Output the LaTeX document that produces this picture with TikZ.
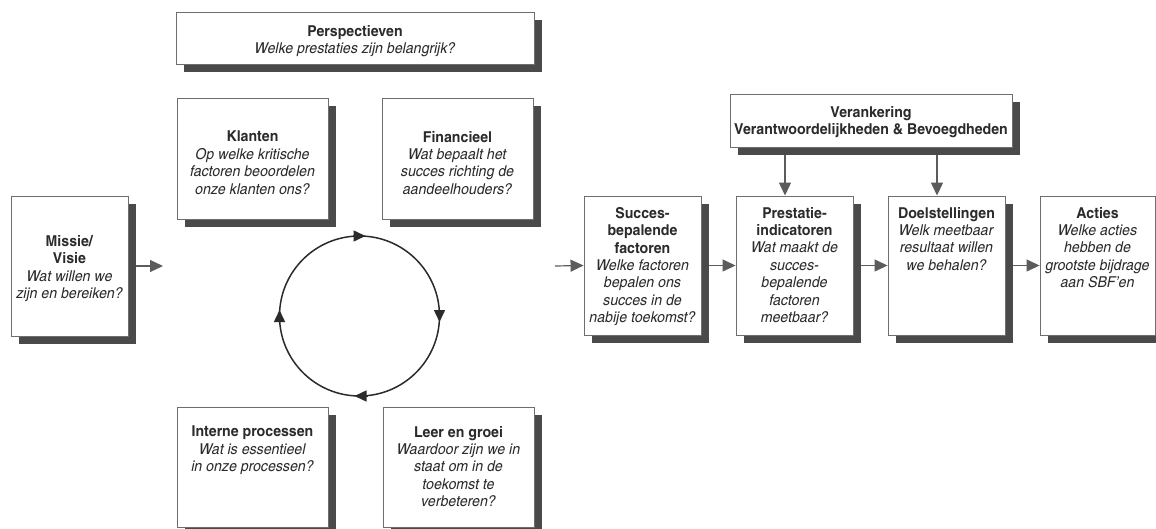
\documentclass[tikz,border=0pt]{standalone}
\usepackage{fontspec}
\setmainfont{texgyreheroscn}[Extension=.otf, UprightFont=*-regular, BoldFont=*-bold, ItalicFont=*-italic, BoldItalicFont=*-bolditalic, FakeStretch=1.15]
\usetikzlibrary{arrows.meta,calc,shadows}
\definecolor{ink}{HTML}{2B2B2B}
\definecolor{frame}{HTML}{6E6E6E}
\definecolor{shade}{HTML}{4A4A4A}
\definecolor{wire}{HTML}{5C5C5C}
\tikzset{
  card/.style={rectangle, draw=frame, line width=0.9pt, fill=white, inner sep=0pt,
    general shadow={fill=shade, shadow xshift=8pt, shadow yshift=-8pt}},
  cardtext/.style={align=center, anchor=north, inner sep=0pt, text=ink,
    font=\fontsize{15}{17.4}\selectfont},
  flow/.style={draw=wire, line width=1.2pt, -{Triangle[length=13pt,width=12pt]}},
  ring/.style={draw=ink, line width=1.5pt},
  ringtip/.style={draw=ink, line width=1.5pt, -{Triangle[length=12pt,width=11pt]}}
}
\begin{document}
\begin{tikzpicture}[x=1pt,y=-1pt]
\useasboundingbox (0,0) rectangle (1156,529);
\clip (0,0) rectangle (1156,529);

% mission / vision
\node[card, minimum width=117pt, minimum height=140pt] (missie) at (69.5,266) {};
\node[cardtext] (missie-t) at (69.5,235) {\textbf{Missie/}\\\textbf{Visie}\\\textit{Wat willen we}\\\textit{zijn en bereiken?}};

% perspectives
\node[card, minimum width=358pt, minimum height=52pt] (persp) at (355,38) {};
\node[cardtext] (persp-t) at (355,25) {\textbf{Perspectieven}\\\textit{Welke prestaties zijn belangrijk?}};

\node[card, minimum width=151pt, minimum height=121pt] (klanten) at (252.5,158.5) {};
\node[cardtext] (klanten-t) at (252.5,131) {\textbf{Klanten}\\\textit{Op welke kritische}\\\textit{factoren beoordelen}\\\textit{onze klanten ons?}};

\node[card, minimum width=151pt, minimum height=121pt] (financ) at (457.5,158.5) {};
\node[cardtext] (financ-t) at (457.5,131) {\textbf{Financieel}\\\textit{Wat bepaalt het}\\\textit{succes richting de}\\\textit{aandeelhouders?}};

\node[card, minimum width=151pt, minimum height=120pt] (interne) at (252.5,467) {};
\node[cardtext] (interne-t) at (252.5,426) {\textbf{Interne processen}\\\textit{Wat is essentieel}\\\textit{in onze processen?}};

\node[card, minimum width=151pt, minimum height=120pt] (leer) at (458.5,467) {};
\node[cardtext] (leer-t) at (458.5,426) {\textbf{Leer en groei}\\\textit{Waardoor zijn we in}\\\textit{staat om in de}\\\textit{toekomst te}\\\textit{verbeteren?}};

% cycle between the perspectives
\coordinate (cyc) at (359.5,316);
\draw[ring] (cyc) circle[radius=80pt];
\draw[ringtip] ($(cyc)+(-7,-80)$) -- ($(cyc)+(6,-80)$);
\draw[ringtip] ($(cyc)+(80,-7)$) -- ($(cyc)+(80,6)$);
\draw[ringtip] ($(cyc)+(8,80)$) -- ($(cyc)+(-5,80)$);
\draw[ringtip] ($(cyc)+(-80,7)$) -- ($(cyc)+(-80,-6)$);

% anchoring
\node[card, minimum width=282pt, minimum height=53pt] (veranker) at (871,120.5) {};
\node[cardtext] (veranker-t) at (871,106) {\textbf{Verankering}\\\textbf{Verantwoordelijkheden \& Bevoegdheden}};

% chain
\node[card, minimum width=117pt, minimum height=139pt] (succes) at (642.5,265.5) {};
\node[cardtext] (succes-t) at (642.5,207) {\textbf{Succes-}\\\textbf{bepalende}\\\textbf{factoren}\\\textit{Welke factoren}\\\textit{bepalen ons}\\\textit{succes in de}\\\textit{nabije toekomst?}};

\node[card, minimum width=117pt, minimum height=139pt] (prest) at (794.5,265.5) {};
\node[cardtext] (prest-t) at (794.5,207) {\textbf{Prestatie-}\\\textbf{indicatoren}\\\textit{Wat maakt de}\\\textit{succes-}\\\textit{bepalende}\\\textit{factoren}\\\textit{meetbaar?}};

\node[card, minimum width=117pt, minimum height=139pt] (doel) at (946.5,265.5) {};
\node[cardtext] (doel-t) at (946.5,207) {\textbf{Doelstellingen}\\\textit{Welk meetbaar}\\\textit{resultaat willen}\\\textit{we behalen?}};

\node[card, minimum width=115pt, minimum height=139pt] (acties) at (1097.5,265.5) {};
\node[cardtext] (acties-t) at (1097.5,207) {\textbf{Acties}\\\textit{Welke acties}\\\textit{hebben de}\\\textit{grootste bijdrage}\\\textit{aan SBF’en}};

% connectors
\coordinate (missie-out) at (163,266);
\coordinate (succes-in) at (555,266);
\draw[flow, shorten <=8pt] (missie.east) -- (missie-out);
\draw[flow] (succes-in) -- (succes.west);
\draw[flow, shorten <=8pt] (succes.east) -- (prest.west);
\draw[flow, shorten <=8pt] (prest.east) -- (doel.west);
\draw[flow, shorten <=8pt] (doel.east) -- (acties.west);

\coordinate (prest-top) at ([xshift=-9.5pt]prest.north);
\coordinate (doel-top) at ([xshift=-9.5pt]doel.north);
\draw[flow, shorten <=8pt] (prest-top |- veranker.south) -- (prest-top);
\draw[flow, shorten <=8pt] (doel-top |- veranker.south) -- (doel-top);
\end{tikzpicture}
\end{document}
